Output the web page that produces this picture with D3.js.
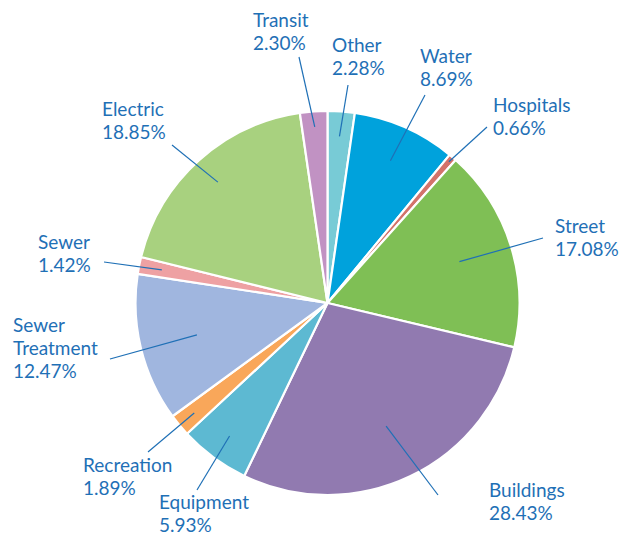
<!DOCTYPE html>
<html>
<head>
<meta charset="utf-8">
<script src="https://cdn.jsdelivr.net/npm/d3@7"></script>
<style>
  body { margin: 0; background: #fff; }
  svg { display: block; }
</style>
</head>
<body>
<svg id="drawing_region"></svg>
<script>
// data
const categories = ["Other", "Water", "Hospitals", "Street", "Buildings", "Equipment",
    "Recreation", "Sewer Treatment", "Sewer", "Electric", "Transit"];
const shares = [2.28, 8.69, 0.66, 17.08, 28.43, 5.93, 1.89, 12.47, 1.42, 18.85, 2.30];
const sliceColors = ["#78cbd6", "#00a2dc", "#d3736b", "#7fbf55", "#917ab0", "#5db9d2",
    "#f9a75a", "#a0b6df", "#eea1a3", "#a8d17f", "#c192c3"];

// label layout: text left x, first baseline, leader outer end, leader inner radius fraction
const labelLayout = {
    "Other":           {x: 332, y: 52,  lx: 348, ly: 85,  f: 0.87, lines: ["Other"]},
    "Water":           {x: 420, y: 63,  lx: 425, ly: 95,  f: 0.81, lines: ["Water"]},
    "Hospitals":       {x: 493, y: 112, lx: 487, ly: 127, f: 0.97, lines: ["Hospitals"]},
    "Street":          {x: 555, y: 233, lx: 543, ly: 238, f: 0.72, lines: ["Street"]},
    "Buildings":       {x: 489, y: 497, lx: 438, ly: 495, f: 0.71, lines: ["Buildings"]},
    "Equipment":       {x: 159, y: 509, lx: 197, ly: 490, f: 0.86, lines: ["Equipment"]},
    "Recreation":      {x: 83,  y: 472, lx: 148, ly: 452, f: 0.90, lines: ["Recreation"]},
    "Sewer Treatment": {x: 13,  y: 332, lx: 110, ly: 359, f: 0.70, lines: ["Sewer", "Treatment"]},
    "Sewer":           {x: 38,  y: 249, lx: 104, ly: 262, f: 0.88, lines: ["Sewer"]},
    "Electric":        {x: 102, y: 116, lx: 172, ly: 145, f: 0.85, lines: ["Electric"]},
    "Transit":         {x: 253, y: 27,  lx: 299, ly: 57,  f: 0.92, lines: ["Transit"]}
};

const config = {
    width: 621,
    height: 535,
    cx: 327.5,
    cy: 303,
    radius: 192,
    lineHeight: 23,
    textColor: "#1f70b6"
};

const data = categories.map((c, i) => ({label: c, value: shares[i], color: sliceColors[i]}));

const svg = d3.select("#drawing_region")
    .attr("width", config.width)
    .attr("height", config.height);

const chart = svg.append("g")
    .attr("transform", `translate(${config.cx}, ${config.cy})`);

const pie = d3.pie()
    .value(d => d.value)
    .sort(null);

const arc = d3.arc()
    .innerRadius(0)
    .outerRadius(config.radius);

const arcs = pie(data);

// slices
chart.selectAll("path.slice")
    .data(arcs)
    .enter()
    .append("path")
    .attr("class", "slice")
    .attr("d", arc)
    .attr("fill", d => d.data.color)
    .attr("stroke", "#fff")
    .attr("stroke-width", 2.2)
    .attr("stroke-linejoin", "round");

// leader lines
chart.selectAll("line.leader")
    .data(arcs)
    .enter()
    .append("line")
    .attr("class", "leader")
    .attr("x1", d => {
        const a = (d.startAngle + d.endAngle) / 2;
        return Math.sin(a) * config.radius * labelLayout[d.data.label].f;
    })
    .attr("y1", d => {
        const a = (d.startAngle + d.endAngle) / 2;
        return -Math.cos(a) * config.radius * labelLayout[d.data.label].f;
    })
    .attr("x2", d => labelLayout[d.data.label].lx - config.cx)
    .attr("y2", d => labelLayout[d.data.label].ly - config.cy)
    .attr("stroke", config.textColor)
    .attr("stroke-width", 1.2);

// labels
const labels = svg.selectAll("text.label")
    .data(arcs)
    .enter()
    .append("text")
    .attr("class", "label")
    .attr("x", d => labelLayout[d.data.label].x)
    .attr("y", d => labelLayout[d.data.label].y)
    .attr("fill", config.textColor)
    .style("font-family", "Lato, 'Open Sans', sans-serif")
    .style("font-size", "19px");

labels.each(function(d) {
    const lay = labelLayout[d.data.label];
    const t = d3.select(this);
    const lines = lay.lines.concat([d.data.value.toFixed(2) + "%"]);
    lines.forEach((s, i) => {
        t.append("tspan")
            .attr("x", lay.x)
            .attr("dy", i === 0 ? 0 : config.lineHeight)
            .text(s);
    });
});
</script>
</body>
</html>
